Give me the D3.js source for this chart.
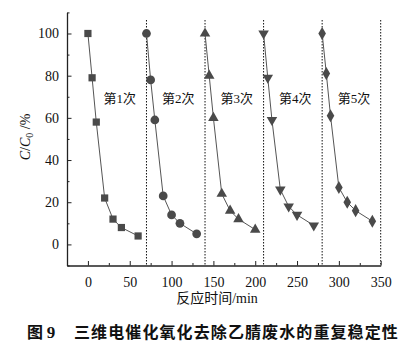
<!DOCTYPE html>
<html><head><meta charset="utf-8">
<script src="https://cdn.jsdelivr.net/npm/d3@7"></script>
<style>
body{margin:0;background:#fff;}
svg{display:block;}
.serif{font-family:"Liberation Serif","DejaVu Serif",serif;}
.cjk{font-family:"Liberation Serif","Noto Sans CJK SC",serif;}
</style></head>
<body>
<svg id="chart" width="420" height="346"></svg>
<script>
// Data
const run1Time = [0, 5, 10, 20, 30, 40, 60];
const run1Vals = [100, 79, 58, 22, 12, 8, 4];
const run2Time = [70, 75, 80, 90, 100, 110, 130];
const run2Vals = [100, 78, 59, 23, 14, 10, 5];
const run3Time = [140, 145, 150, 160, 170, 180, 200];
const run3Vals = [100, 80, 60, 24, 16, 12, 7];
const run4Time = [210, 215, 220, 230, 240, 250, 270];
const run4Vals = [100, 79, 59, 26, 18, 14, 9];
const run5Time = [280, 285, 290, 300, 310, 320, 340];
const run5Vals = [100, 81, 61, 27, 20, 16, 11];
const runLabels = ["第1次", "第2次", "第3次", "第4次", "第5次"];
const runStarts = [0, 70, 140, 210, 280];
const dividers = [70, 140, 210, 280, 350];
const xTicks = [0, 50, 100, 150, 200, 250, 300, 350];
const xMinor = [-25, 25, 75, 125, 175, 225, 275, 325];
const yTicks = [0, 20, 40, 60, 80, 100];
const yMinor = [-10, 10, 30, 50, 70, 90, 110];

const svg = d3.select("#chart");
const x = d3.scaleLinear().domain([-25, 350]).range([67, 380.7]);
const y = d3.scaleLinear().domain([-10, 110]).range([265.5, 12.4]);
const ink = "#222";
const mark = "#4a4a4a";

// dividers (dotted)
svg.append("g").selectAll("line").data(dividers).join("line")
  .attr("x1", d => x(d)).attr("x2", d => x(d))
  .attr("y1", 20).attr("y2", y(-10))
  .attr("stroke", "#111").attr("stroke-width", 1)
  .attr("stroke-dasharray", "1.5,1.5");

// axes
const xAxis = d3.axisBottom(x).tickValues(xTicks).tickSizeInner(-4.5).tickSizeOuter(0).tickPadding(8).tickFormat(d3.format("d"));
const gx = svg.append("g").attr("transform", `translate(0,${y(-10)})`).call(xAxis);
const xAxisMinor = d3.axisBottom(x).tickValues(xMinor).tickSizeInner(-2.5).tickSizeOuter(0).tickFormat("");
const gxm = svg.append("g").attr("transform", `translate(0,${y(-10)})`).call(xAxisMinor);
gxm.select(".domain").remove();

const yAxis = d3.axisLeft(y).tickValues(yTicks).tickSizeInner(-4.5).tickSizeOuter(0).tickPadding(8).tickFormat(d3.format("d"));
const gy = svg.append("g").attr("transform", `translate(${x(-25)},0)`).call(yAxis);
const yAxisMinor = d3.axisLeft(y).tickValues(yMinor).tickSizeInner(-2.5).tickSizeOuter(0).tickFormat("");
const gym = svg.append("g").attr("transform", `translate(${x(-25)},0)`).call(yAxisMinor);
gym.select(".domain").remove();

[gx, gxm, gy, gym].forEach(g => {
  g.attr("font-family", null).attr("font-size", null);
  g.selectAll(".domain").attr("stroke", ink).attr("stroke-width", 1.3);
  g.selectAll(".tick line").attr("stroke", ink).attr("stroke-width", 1);
  g.selectAll(".tick text").attr("class", "serif").style("font-size", "14px").attr("fill", "#111");
});
gx.selectAll(".tick text").attr("dy", "0.95em");

// series
const runs = [
  {t: run1Time, v: run1Vals, sym: d3.symbolSquare, size: 52, rot: 0},
  {t: run2Time, v: run2Vals, sym: d3.symbolCircle, size: 60, rot: 0},
  {t: run3Time, v: run3Vals, sym: d3.symbolTriangle, size: 48, rot: 0},
  {t: run4Time, v: run4Vals, sym: d3.symbolTriangle, size: 48, rot: 180},
  {t: run5Time, v: run5Vals, sym: d3.symbolDiamond, size: 50, rot: 0}
];
const line = d3.line().x(d => x(d[0])).y(d => y(d[1]));
runs.forEach(r => {
  const pts = r.t.map((t, i) => [t, r.v[i]]);
  svg.append("path").datum(pts).attr("d", line)
    .attr("fill", "none").attr("stroke", "#555").attr("stroke-width", 1);
  svg.append("g").selectAll("path").data(pts).join("path")
    .attr("d", d3.symbol().type(r.sym).size(r.size))
    .attr("transform", d => `translate(${x(d[0])},${y(d[1])}) rotate(${r.rot})`)
    .attr("fill", mark);
});

// run labels
svg.append("g").selectAll("text").data(runLabels).join("text")
  .attr("class", "cjk")
  .attr("x", (d, i) => x(runStarts[i] + 38))
  .attr("y", y(69))
  .attr("text-anchor", "middle").attr("dominant-baseline", "central")
  .style("font-size", "13px").attr("fill", "#111")
  .text(d => d);

// axis titles
svg.append("text").attr("class", "cjk").attr("x", 217).attr("y", 303)
  .attr("text-anchor", "middle").style("font-size", "14px").attr("fill", "#111")
  .text("反应时间/min");

const yt = svg.append("text").attr("class", "serif").attr("transform", "translate(30,137) rotate(-90)")
  .attr("text-anchor", "middle").style("font-size", "14px").attr("fill", "#111");
yt.append("tspan").attr("font-style", "italic").text("C");
yt.append("tspan").text("/");
yt.append("tspan").attr("font-style", "italic").text("C");
yt.append("tspan").style("font-size", "10px").attr("dy", 3).text("0");
yt.append("tspan").attr("dy", -3).text(" /%");

// caption
const cap = svg.append("text").attr("x", 27).attr("y", 338)
  .style("font-family", "'Noto Sans CJK SC',sans-serif").attr("font-weight", "bold").style("font-size", "16px").attr("fill", "#111");
cap.append("tspan").text("图 ");
cap.append("tspan").attr("class", "serif").style("font-size", "17px").text("9");
cap.append("tspan").attr("x", 74).attr("letter-spacing", 1.1).text("三维电催化氧化去除乙腈废水的重复稳定性");
</script>
</body></html>
